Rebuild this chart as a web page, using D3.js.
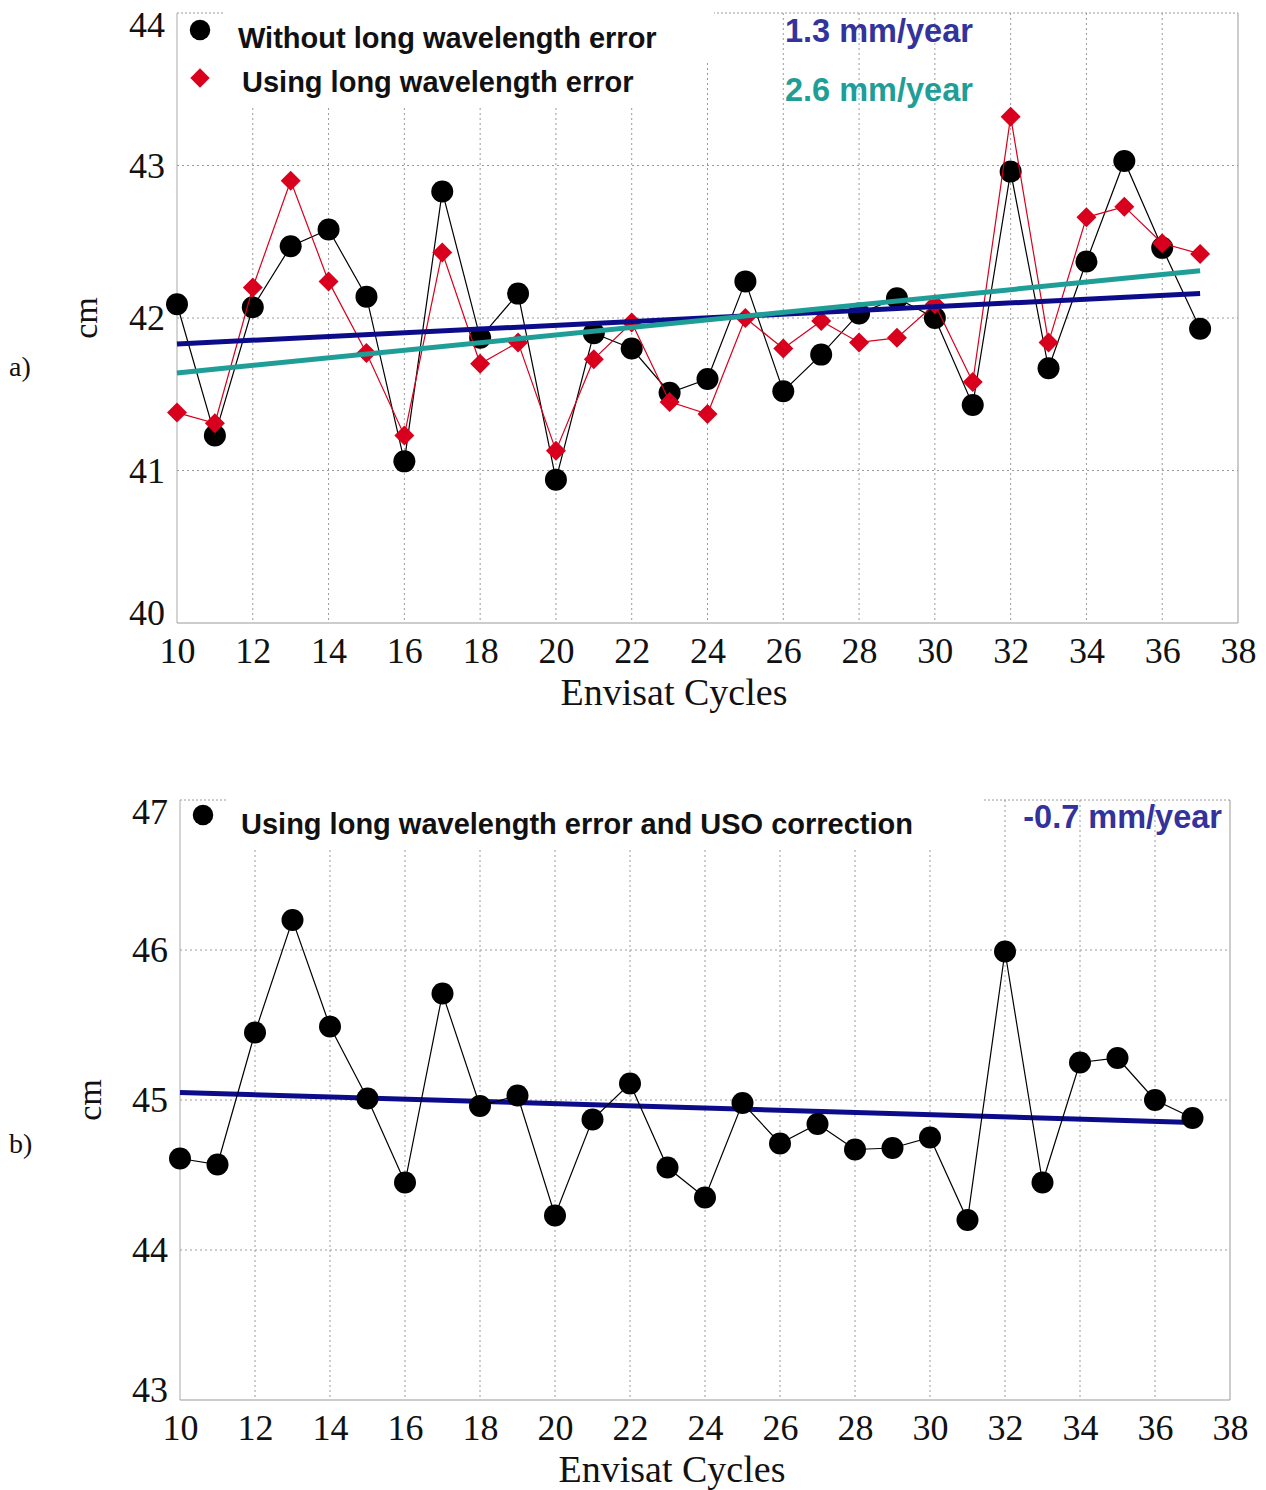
<!DOCTYPE html>
<html>
<head>
<meta charset="utf-8">
<script src="https://cdn.jsdelivr.net/npm/d3@7"></script>
<style>
  html, body { margin: 0; padding: 0; background: #ffffff; }
  svg { display: block; }
</style>
</head>
<body>
<svg id="chart" width="1266" height="1490"></svg>
<script>
// ---------- DATA ----------
const cycles = [10,11,12,13,14,15,16,17,18,19,20,21,22,23,24,25,26,27,28,29,30,31,32,33,34,35,36,37];
const withoutLWE = [42.09,41.23,42.07,42.47,42.58,42.14,41.06,42.83,41.87,42.16,40.94,41.90,41.80,41.51,41.60,42.24,41.52,41.76,42.03,42.13,42.00,41.43,42.96,41.67,42.37,43.03,42.46,41.93];
const usingLWE   = [41.38,41.31,42.20,42.90,42.24,41.77,41.23,42.43,41.70,41.84,41.13,41.73,41.97,41.45,41.37,42.00,41.80,41.98,41.84,41.87,42.09,41.58,43.32,41.84,42.66,42.73,42.49,42.42];
const usingLWEUSO = [44.61,44.57,45.45,46.20,45.49,45.01,44.45,45.71,44.96,45.03,44.23,44.87,45.11,44.55,44.35,44.98,44.71,44.84,44.67,44.68,44.75,44.20,45.99,44.45,45.25,45.28,45.00,44.88];
const trendCycles = [10, 37];
const trendWithout = [41.83, 42.16];
const trendUsing   = [41.64, 42.31];
const trendUSO     = [45.05, 44.85];
const xTicks = [10,12,14,16,18,20,22,24,26,28,30,32,34,36,38];
const yTicksA = [40,41,42,43,44];
const yTicksB = [43,44,45,46,47];
const rateLabelsA = ["1.3 mm/year", "2.6 mm/year"];
const rateLabelB = "-0.7 mm/year";
const legendA = ["Without long wavelength error", "Using long wavelength error"];
const legendB = "Using long wavelength error and USO correction";

// ---------- STYLE ----------
const serif = "'Liberation Serif','Times New Roman',serif";
const sans = "'Liberation Sans',Arial,sans-serif";
const navy = "#0c0c8a";
const teal = "#1f9e98";
const rateBlue = "#33339b";
const red = "#d8001c";
const gridCol = "#9a9a9a";

const svg = d3.select("#chart");

function panel(cfg) {
  const g = svg.append("g");
  const x = d3.scaleLinear().domain([10, 38]).range([cfg.left, cfg.right]);
  const y = d3.scaleLinear().domain(cfg.yDomain).range([cfg.bottom, cfg.top]);

  g.append("rect").attr("x", cfg.left).attr("y", cfg.top)
    .attr("width", cfg.right - cfg.left).attr("height", cfg.bottom - cfg.top)
    .attr("fill", "#fff");

  // grid
  g.append("g").selectAll("line").data(xTicks.filter(t => t > 10 && t < 38)).join("line")
    .attr("x1", d => x(d)).attr("x2", d => x(d))
    .attr("y1", cfg.top).attr("y2", cfg.bottom)
    .attr("stroke", gridCol).attr("stroke-width", 1).attr("stroke-dasharray", "2,3");
  g.append("g").selectAll("line").data(cfg.yTicks.slice(1, -1)).join("line")
    .attr("x1", cfg.left).attr("x2", cfg.right)
    .attr("y1", d => y(d)).attr("y2", d => y(d))
    .attr("stroke", gridCol).attr("stroke-width", 1).attr("stroke-dasharray", "2,3");

  // frame
  g.append("line").attr("x1", cfg.left).attr("x2", cfg.right).attr("y1", cfg.top).attr("y2", cfg.top)
    .attr("stroke", gridCol).attr("stroke-dasharray", "2,2");
  g.append("line").attr("x1", cfg.left).attr("x2", cfg.left).attr("y1", cfg.top).attr("y2", cfg.bottom)
    .attr("stroke", "#aaa");
  g.append("line").attr("x1", cfg.right).attr("x2", cfg.right).attr("y1", cfg.top).attr("y2", cfg.bottom)
    .attr("stroke", "#999");
  g.append("line").attr("x1", cfg.left).attr("x2", cfg.right).attr("y1", cfg.bottom).attr("y2", cfg.bottom)
    .attr("stroke", "#999");

  // legend background patches (cover grid)
  cfg.legendRects.forEach(r => {
    g.append("rect").attr("x", r[0]).attr("y", r[1]).attr("width", r[2] - r[0]).attr("height", r[3] - r[1])
      .attr("fill", "#fff");
  });

  // axes
  const xAxis = g.append("g").attr("transform", `translate(0,${cfg.bottom})`)
    .call(d3.axisBottom(x).tickValues(xTicks).tickSize(0).tickPadding(14).tickFormat(d3.format("d")));
  xAxis.select(".domain").remove();
  xAxis.selectAll("text").attr("font-family", serif).attr("font-size", 36).attr("fill", "#111");

  const yAxis = g.append("g").attr("transform", `translate(${cfg.left},0)`)
    .call(d3.axisLeft(y).tickValues(cfg.yTicks).tickSize(0).tickPadding(12).tickFormat(d3.format("d")));
  yAxis.select(".domain").remove();
  yAxis.selectAll("text").attr("font-family", serif).attr("font-size", 36).attr("fill", "#111")
    .attr("dy", d => d === cfg.yTicks[cfg.yTicks.length - 1] ? "0.65em" : (d === cfg.yTicks[0] ? "0.05em" : "0.32em"));

  g.append("text").attr("x", cfg.titleX).attr("y", cfg.bottom + 82)
    .attr("text-anchor", "middle").attr("font-family", serif).attr("font-size", 38).attr("fill", "#111")
    .text("Envisat Cycles");
  g.append("text").attr("transform", `translate(${cfg.cmX},${(cfg.top + cfg.bottom) / 2}) rotate(-90)`)
    .attr("text-anchor", "middle").attr("font-family", serif).attr("font-size", 34).attr("fill", "#111")
    .text("cm");
  g.append("text").attr("x", 9).attr("y", cfg.panelLabelY).attr("font-family", serif)
    .attr("font-size", 28).attr("fill", "#111").attr("dominant-baseline", "middle").text(cfg.panelLabel);

  return { g, x, y };
}

function drawTrend(p, vals, color) {
  const pts = trendCycles.map((c, i) => [c, vals[i]]);
  p.g.append("path").datum(pts)
    .attr("d", d3.line().x(d => p.x(d[0])).y(d => p.y(d[1])))
    .attr("fill", "none").attr("stroke", color).attr("stroke-width", 5);
}

function drawSeries(p, vals, color, symbol, size) {
  const pts = cycles.map((c, i) => [c, vals[i]]);
  p.g.append("path").datum(pts)
    .attr("d", d3.line().x(d => p.x(d[0])).y(d => p.y(d[1])))
    .attr("fill", "none").attr("stroke", color).attr("stroke-width", 1.2);
  p.g.append("g").selectAll("path").data(pts).join("path")
    .attr("transform", d => `translate(${p.x(d[0])},${p.y(d[1])})`)
    .attr("d", d3.symbol().type(symbol).size(size))
    .attr("fill", color);
}

// ---------- PANEL A ----------
const pA = panel({
  left: 177, right: 1238, top: 13, bottom: 623,
  yDomain: [40, 44], yTicks: yTicksA, cmX: 97, panelLabel: "a)", panelLabelY: 370, titleX: 674,
  legendRects: [[224, 9, 703, 107], [703, 9, 714, 63]]
});
drawSeries(pA, withoutLWE, "#000", d3.symbolCircle, 380);
drawSeries(pA, usingLWE, red, d3.symbolDiamond2, 255);
drawTrend(pA, trendWithout, navy);
drawTrend(pA, trendUsing, teal);

// legend A
pA.g.append("path").attr("transform", "translate(200,30)").attr("d", d3.symbol().type(d3.symbolCircle).size(330)).attr("fill", "#000");
pA.g.append("path").attr("transform", "translate(200,78)").attr("d", d3.symbol().type(d3.symbolDiamond2).size(240)).attr("fill", red);
pA.g.append("text").attr("x", 238).attr("y", 48).attr("font-family", sans).attr("font-weight", "bold")
  .attr("font-size", 29).attr("fill", "#111").text(legendA[0]);
pA.g.append("text").attr("x", 242).attr("y", 92).attr("font-family", sans).attr("font-weight", "bold")
  .attr("font-size", 29).attr("fill", "#111").text(legendA[1]);
pA.g.append("text").attr("x", 785).attr("y", 42).attr("font-family", sans).attr("font-weight", "bold")
  .attr("font-size", 32.5).attr("fill", rateBlue).text(rateLabelsA[0]);
pA.g.append("text").attr("x", 785).attr("y", 101).attr("font-family", sans).attr("font-weight", "bold")
  .attr("font-size", 32.5).attr("fill", teal).text(rateLabelsA[1]);

// ---------- PANEL B ----------
const pB = panel({
  left: 180, right: 1230, top: 800, bottom: 1400,
  yDomain: [43, 47], yTicks: yTicksB, cmX: 101, panelLabel: "b)", panelLabelY: 1147, titleX: 672,
  legendRects: [[228, 795, 982, 848]]
});
drawTrend(pB, trendUSO, navy);
drawSeries(pB, usingLWEUSO, "#000", d3.symbolCircle, 380);

pB.g.append("path").attr("transform", "translate(203,815)").attr("d", d3.symbol().type(d3.symbolCircle).size(330)).attr("fill", "#000");
pB.g.append("text").attr("x", 241).attr("y", 834).attr("font-family", sans).attr("font-weight", "bold")
  .attr("font-size", 29).attr("fill", "#111").text(legendB);
pB.g.append("text").attr("x", 1222).attr("y", 828).attr("text-anchor", "end").attr("font-family", sans).attr("font-weight", "bold")
  .attr("font-size", 32.5).attr("fill", rateBlue).text(rateLabelB);
</script>
</body>
</html>
